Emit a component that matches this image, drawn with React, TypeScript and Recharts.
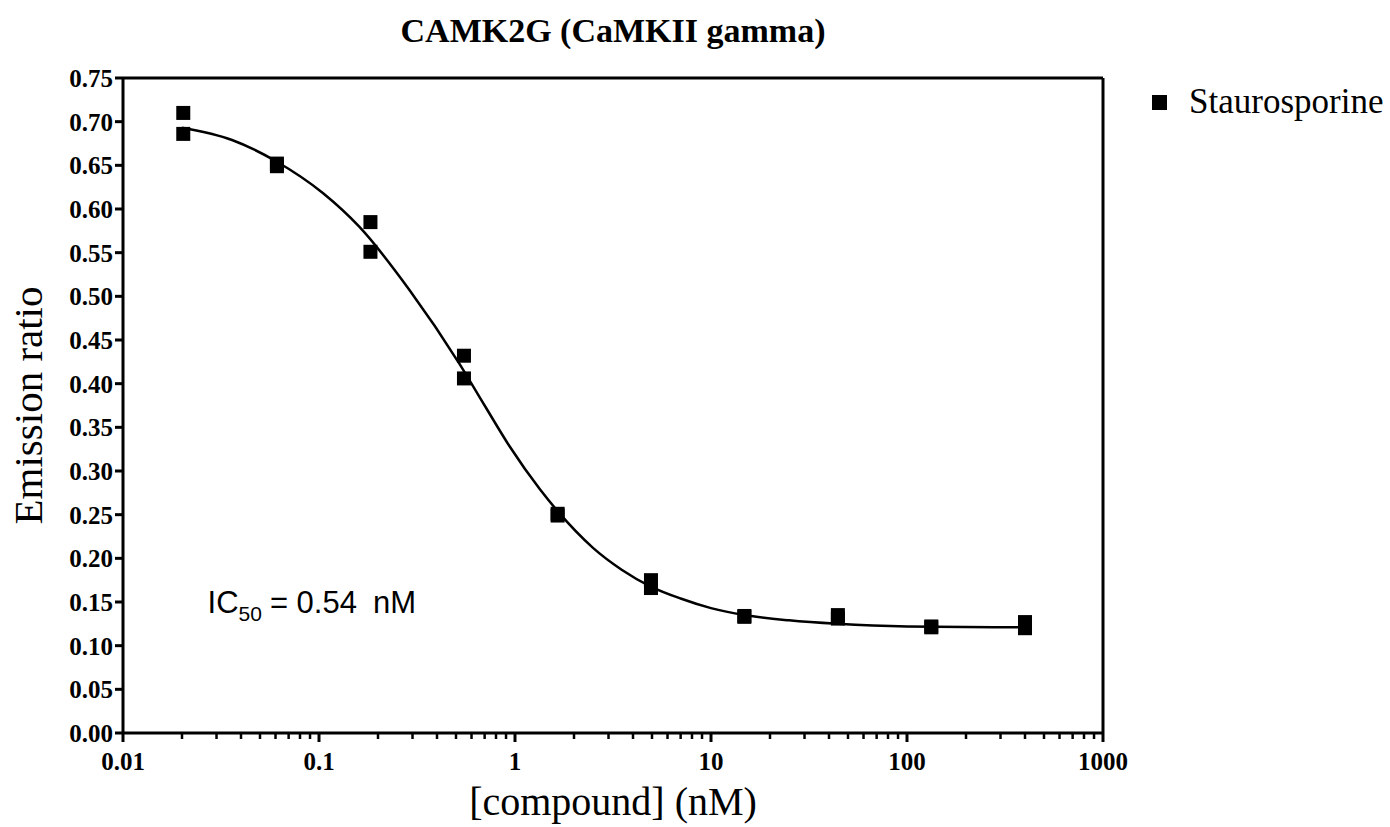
import React from 'react';
import {
  ComposedChart, Scatter, Line, XAxis, YAxis, ReferenceLine, ReferenceDot,
} from 'recharts';

// 3-fold dilution series (nM)
const concentrations = [0.0203, 0.061, 0.183, 0.549, 1.65, 4.94, 14.8, 44.4, 133, 400];
const replicate1 = [0.71, 0.652, 0.585, 0.432, 0.251, 0.175, 0.134, 0.135, 0.122, 0.127];
const replicate2 = [0.686, 0.649, 0.551, 0.406, 0.249, 0.166, 0.133, 0.131, 0.121, 0.12];

// fitted curve
const fitX = [0.02, 0.036, 0.06, 0.105, 0.16, 0.29, 0.52, 0.7, 0.94, 1.34, 1.65, 2.5, 3.5, 4.9, 7, 10, 14.8, 25, 44, 100, 400];
const fitY = [0.693, 0.679, 0.655, 0.618, 0.58, 0.507, 0.423, 0.375, 0.328, 0.279, 0.254, 0.212, 0.187, 0.168, 0.154, 0.143, 0.135, 0.129, 0.125, 0.122, 0.121];

const majorTicks = [0.01, 0.1, 1, 10, 100, 1000];
const minorTicks = [
  0.02, 0.03, 0.04, 0.05, 0.06, 0.07, 0.08, 0.09,
  0.2, 0.3, 0.4, 0.5, 0.6, 0.7, 0.8, 0.9,
  2, 3, 4, 5, 6, 7, 8, 9,
  20, 30, 40, 50, 60, 70, 80, 90,
  200, 300, 400, 500, 600, 700, 800, 900,
];
const yTicks = [0, 0.05, 0.1, 0.15, 0.2, 0.25, 0.3, 0.35, 0.4, 0.45, 0.5, 0.55, 0.6, 0.65, 0.7, 0.75];

const scatterData = concentrations.flatMap((c, i) => [
  { x: c, y: replicate1[i] },
  { x: c, y: replicate2[i] },
]);
const fitData = fitX.map((x, i) => ({ x, y: fitY[i] }));

const serif = '"Liberation Serif", "Times New Roman", serif';

const XTick = (props: any) => {
  const { x, y, payload } = props;
  const major = majorTicks.includes(payload.value);
  return (
    <g>
      <line x1={x} x2={x} y1={y} y2={y + (major ? 9 : 6)} stroke="#000" strokeWidth={major ? 3 : 2.5} />
      {major && (
        <text x={x} y={y + 37} textAnchor="middle" fontFamily={serif} fontWeight="bold" fontSize={25} fill="#000">
          {String(payload.value)}
        </text>
      )}
    </g>
  );
};

const SquareDot = (props: any) => {
  const { cx, cy } = props;
  return <rect x={cx - 7} y={cy - 7} width={14} height={14} fill="#000" />;
};

const Ic50Label = (props: any) => {
  const { viewBox } = props;
  return (
    <text x={viewBox.x} y={viewBox.y} fontFamily='"Liberation Sans", Arial, sans-serif' fontSize={31} fill="#000">
      IC
      <tspan fontSize={21} dy={8}>50</tspan>
      <tspan dy={-8} dx={8}>= 0.54</tspan>
      <tspan dx={16}>nM</tspan>
    </text>
  );
};

const App: React.FC = () => {
  return (
    <div style={{ position: 'absolute', left: 0, top: 0, width: 1390, height: 827, background: '#fff' }}>
      <div
        style={{
          position: 'absolute', top: 12, left: 0, width: 1226, textAlign: 'center',
          fontFamily: serif, fontWeight: 'bold', fontSize: 34, color: '#000',
        }}
      >
        CAMK2G (CaMKII gamma)
      </div>
      <div
        style={{
          position: 'absolute', top: 82, left: 1152, display: 'flex', alignItems: 'center',
          fontFamily: serif, fontSize: 35, color: '#000', whiteSpace: 'nowrap',
        }}
      >
        <span style={{ width: 15, height: 15, background: '#000', display: 'inline-block', marginRight: 22 }} />
        Staurosporine
      </div>
      <ComposedChart width={1390} height={827} margin={{ top: 78, right: 287, bottom: 0, left: 0 }}>
        <XAxis
          dataKey="x"
          type="number"
          scale="log"
          domain={[0.01, 1000]}
          allowDataOverflow
          ticks={[...majorTicks, ...minorTicks]}
          interval={0}
          tick={<XTick />}
          tickLine={false}
          tickSize={0}
          tickMargin={0}
          height={94}
          axisLine={{ stroke: '#000', strokeWidth: 3 }}
          label={{
            value: '[compound] (nM)', position: 'insideBottom', offset: 12,
            style: { fontFamily: serif, fontSize: 40, fill: '#000' },
          }}
        />
        <YAxis
          dataKey="y"
          type="number"
          domain={[0, 0.75]}
          ticks={yTicks}
          interval={0}
          width={123}
          tickFormatter={(v: number) => v.toFixed(2)}
          tick={{ fontFamily: serif, fontWeight: 'bold', fontSize: 25, fill: '#000' }}
          tickLine={{ stroke: '#000', strokeWidth: 3 }}
          tickSize={8}
          tickMargin={2}
          axisLine={{ stroke: '#000', strokeWidth: 3 }}
          label={{
            value: 'Emission ratio', angle: -90, position: 'insideLeft', offset: 0, dx: 27,
            style: { fontFamily: serif, fontSize: 41, fill: '#000', textAnchor: 'middle' },
          }}
        />
        <ReferenceLine y={0.75} stroke="#000" strokeWidth={3} />
        <ReferenceLine x={1000} stroke="#000" strokeWidth={3} />
        <ReferenceDot x={0.027} y={0.137} r={0} fill="none" stroke="none" label={<Ic50Label />} />
        <Line
          data={fitData}
          dataKey="y"
          type="monotone"
          stroke="#000"
          strokeWidth={2.5}
          dot={false}
          activeDot={false}
          legendType="none"
          isAnimationActive={false}
        />
        <Scatter
          name="Staurosporine"
          data={scatterData}
          dataKey="y"
          fill="#000"
          shape={<SquareDot />}
          isAnimationActive={false}
        />
      </ComposedChart>
    </div>
  );
};

export default App;
